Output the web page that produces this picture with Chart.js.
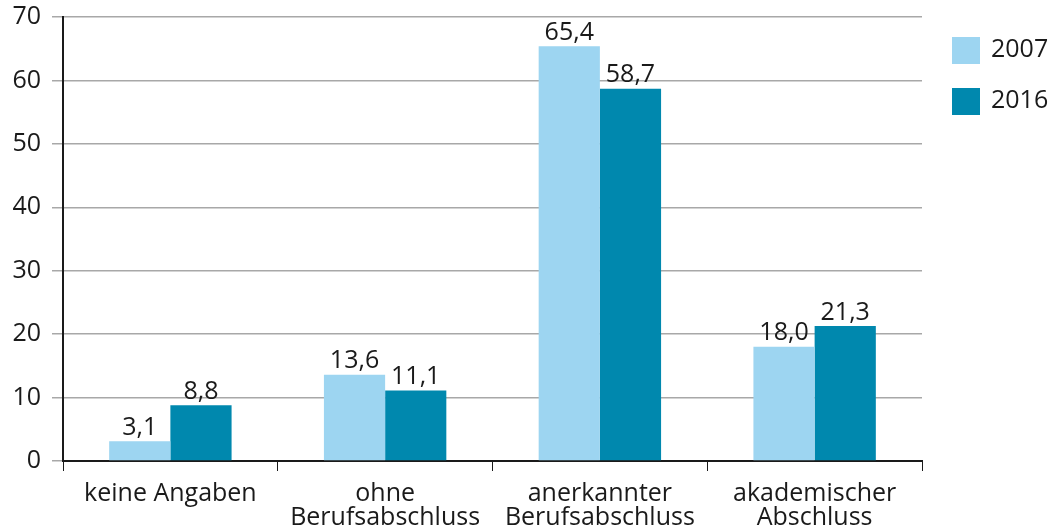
<!DOCTYPE html>
<html>
<head>
<meta charset="utf-8">
<script src="https://cdn.jsdelivr.net/npm/chart.js@4/dist/chart.umd.min.js"></script>
<style>
html,body{margin:0;padding:0;background:#fff;}
#wrap{width:1055px;height:532px;}
</style>
</head>
<body>
<div id="wrap"><canvas id="c" width="1055" height="532"></canvas></div>
<script>
const categories = [["keine Angaben"], ["ohne", "Berufsabschluss"], ["anerkannter", "Berufsabschluss"], ["akademischer", "Abschluss"]];
const seriesNames = ["2007", "2016"];
const values2007 = [3.1, 13.6, 65.4, 18.0];
const values2016 = [8.8, 11.1, 58.7, 21.3];
const yTicks = [0, 10, 20, 30, 40, 50, 60, 70];
const colors = ["#9dd5f1", "#0088ae"];

const FONT = "'Open Sans', 'DejaVu Sans', sans-serif";

const valueLabels = {
  id: 'valueLabels',
  afterDatasetsDraw(chart) {
    const ctx = chart.ctx;
    ctx.save();
    ctx.font = "25px " + FONT;
    ctx.fillStyle = "#1a1a1a";
    ctx.textAlign = "center";
    ctx.textBaseline = "bottom";
    chart.data.datasets.forEach((ds, i) => {
      chart.getDatasetMeta(i).data.forEach((bar, j) => {
        const v = ds.data[j].toFixed(1).replace('.', ',');
        ctx.fillText(v, bar.x, bar.y - 1);
      });
    });
    ctx.restore();
  }
};

const customLegend = {
  id: 'customLegend',
  afterDraw(chart) {
    const ctx = chart.ctx;
    ctx.save();
    ctx.font = "25px " + FONT;
    ctx.textBaseline = "middle";
    ctx.textAlign = "left";
    chart.data.datasets.forEach((ds, i) => {
      const y = 37 + i * 51;
      ctx.fillStyle = ds.backgroundColor;
      ctx.fillRect(952, y, 28, 27);
      ctx.fillStyle = "#1a1a1a";
      ctx.fillText(ds.label, 991, y + 13);
    });
    ctx.restore();
  }
};

new Chart(document.getElementById('c'), {
  type: 'bar',
  data: {
    labels: categories,
    datasets: [
      { label: seriesNames[0], data: values2007, backgroundColor: colors[0] },
      { label: seriesNames[1], data: values2016, backgroundColor: colors[1] }
    ]
  },
  options: {
    responsive: false,
    animation: false,
    devicePixelRatio: 1,
    categoryPercentage: 0.57,
    barPercentage: 1.0,
    layout: { padding: { left: 0, right: 133, top: 17, bottom: 0 } },
    plugins: {
      legend: { display: false },
      tooltip: { enabled: false }
    },
    scales: {
      x: {
        grid: { display: true, drawOnChartArea: false, color: '#1a1a1a', tickLength: 10, offset: true },
        border: { display: true, color: '#1a1a1a', width: 2 },
        ticks: { color: '#1a1a1a', font: { family: FONT, size: 25, lineHeight: 0.96 }, padding: 11, maxRotation: 0, autoSkip: false },
        afterFit(scale) { scale.height = 71; scale.paddingLeft = 0; scale.paddingRight = 0; }
      },
      y: {
        min: 0, max: 70,
        afterBuildTicks(scale) { scale.ticks = yTicks.map(v => ({ value: v })); },
        grid: { color: '#a8a8a8', lineWidth: 1.5, tickLength: 11 },
        border: { display: true, color: '#1a1a1a', width: 2 },
        ticks: { color: '#1a1a1a', font: { family: FONT, size: 25 }, padding: 11 },
        afterFit(scale) { scale.width = 63; scale.paddingTop = 0; scale.paddingBottom = 0; }
      }
    }
  },
  plugins: [valueLabels, customLegend]
});
</script>
</body>
</html>
